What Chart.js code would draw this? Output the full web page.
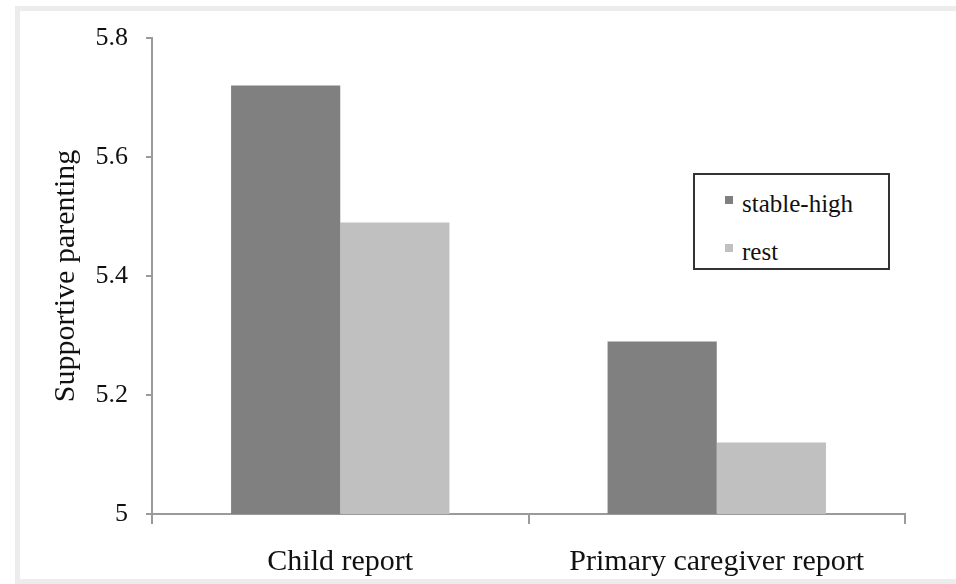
<!DOCTYPE html>
<html>
<head>
<meta charset="utf-8">
<script src="https://cdn.jsdelivr.net/npm/chart.js@4/dist/chart.umd.min.js"></script>
<style>
    html, body { margin: 0; padding: 0; background: #fff; }
    #frame {
        position: absolute; left: 15px; top: 6px; width: 960px; height: 568px;
        border: 5px solid #ececec; border-right: none;
    }
    #wrap { position: absolute; left: 0; top: 0; width: 956px; height: 584px; }
    #legend {
        position: absolute; left: 693px; top: 173px; width: 193px; height: 93px;
        border: 2px solid #333; background: #fff;
        font-family: "Liberation Serif", serif; font-size: 25px; color: #111;
    }
    .item { position: absolute; left: 30px; height: 30px; line-height: 30px; }
    .swatch { position: absolute; left: 0; top: 7px; width: 8px; height: 8px; }
    .label { position: absolute; left: 17px; top: 0; white-space: nowrap; }
</style>
</head>
<body>
<div id="frame"></div>
<div id="wrap"><canvas id="chart" width="956" height="584"></canvas></div>
<div id="legend"></div>
<script>
// Data
const categories = ['Child report', 'Primary caregiver report'];
const stableHigh = [5.72, 5.29];
const rest = [5.49, 5.12];
const yTicks = [5, 5.2, 5.4, 5.6, 5.8];
const yTickLabels = ['5', '5.2', '5.4', '5.6', '5.8'];

const seriesNames = ['stable-high', 'rest'];
const seriesColors = ['#808080', '#c0c0c0'];

const serif = '"Liberation Serif", "Times New Roman", serif';
const axisColor = '#9a9a9a';

const ctx = document.getElementById('chart').getContext('2d');
const chart = new Chart(ctx, {
    type: 'bar',
    data: {
        labels: categories,
        datasets: [
            { label: seriesNames[0], data: stableHigh, backgroundColor: seriesColors[0], borderWidth: 0 },
            { label: seriesNames[1], data: rest, backgroundColor: seriesColors[1], borderWidth: 0 }
        ]
    },
    options: {
        responsive: false,
        animation: false,
        layout: { padding: { top: 38, right: 51, left: 0, bottom: 0 } },
        plugins: {
            legend: { display: false },
            tooltip: { enabled: false }
        },
        datasets: {
            bar: { categoryPercentage: 0.58, barPercentage: 1.0 }
        },
        scales: {
            x: {
                afterFit: (s) => { s.height = 70; },
                grid: { display: true, drawOnChartArea: false, tickLength: 10, color: axisColor, lineWidth: 2, offset: true },
                border: { color: axisColor, width: 2 },
                ticks: { color: '#111', padding: 20, font: { family: serif, size: 30 } }
            },
            y: {
                min: 5,
                max: 5.8,
                afterFit: (s) => { s.width = 152; },
                afterBuildTicks: (s) => { s.ticks = yTicks.map(v => ({ value: v })); },
                grid: { drawOnChartArea: false, tickLength: 6, color: axisColor, lineWidth: 2 },
                border: { color: axisColor, width: 2 },
                ticks: {
                    color: '#111',
                    padding: 18,
                    font: { family: serif, size: 26 },
                    callback: (v) => yTickLabels[yTicks.indexOf(Math.round(v * 10) / 10)]
                },
                title: {
                    display: true,
                    text: 'Supportive parenting',
                    color: '#111',
                    font: { family: serif, size: 30 },
                    padding: { top: 0, bottom: 0 }
                }
            }
        }
    },
    plugins: [{
        id: 'titleShift',
        beforeDraw(c) {
            // move the y title to its spot
            c.scales.y.options.title.padding = { top: 48 - c.scales.y.left, bottom: 0 };
        }
    }]
});

// Legend built from the series arrays
const legendEl = document.getElementById('legend');
seriesNames.forEach((name, i) => {
    const item = document.createElement('div');
    item.className = 'item';
    item.style.top = (14 + i * 48) + 'px';
    item.innerHTML = `<span class="swatch" style="background:${seriesColors[i]}"></span><span class="label">${name}</span>`;
    legendEl.appendChild(item);
});
</script>
</body>
</html>
